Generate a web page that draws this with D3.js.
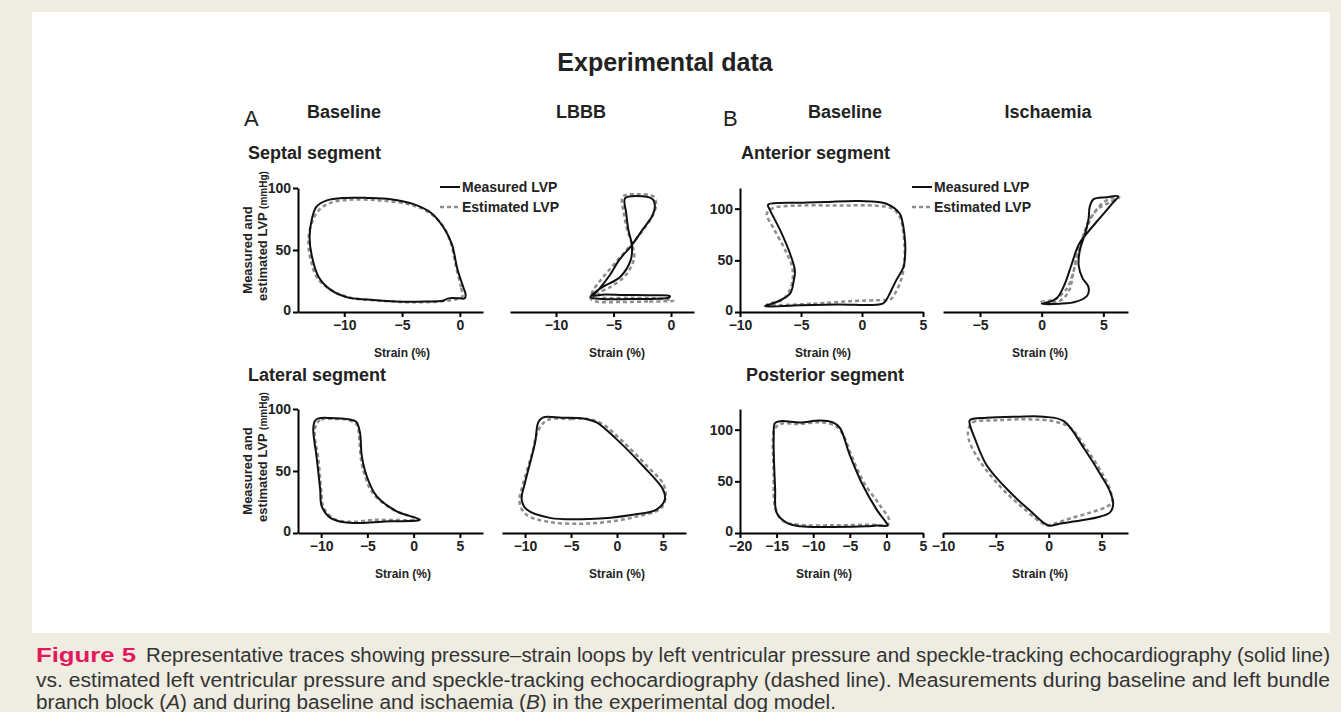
<!DOCTYPE html>
<html>
<head>
<meta charset="utf-8">
<script src="https://d3js.org/d3.v7.min.js"></script>
<style>
  body { margin: 0; background: #efece2; }
  svg text { font-family: "Liberation Sans", Arial, Helvetica, sans-serif; }
  .axis path, .axis line { stroke: #000; stroke-width: 2; }
  .axis text { font-size: 14px; font-weight: bold; fill: #222; }
  .lab { font-weight: bold; fill: #222; }
  .caption { font-family: "Liberation Sans", Arial, sans-serif; font-size: 20px; fill: #333; }
</style>
</head>
<body>
<svg id="fig" width="1341" height="712"></svg>
<script>
// ---- data: [strain %, pressure mmHg] ----
const septalBaseMeasured = [[0.4,11],[0.5,14],[0.3,20],[-0.2,34],[-0.7,55],[-1.4,68],[-2.5,80],[-4,87],[-6,91],[-8,92],[-10,92],[-11.5,90],[-12.4,85],[-12.8,75],[-13,60],[-12.8,45],[-12.2,28],[-11.2,18],[-9.8,12],[-8,10],[-5.5,8.5],[-3,8.5],[-1.5,9],[-1,11],[0,11]];
const septalBaseEstimated = [[0.2,12],[0.1,20],[-0.3,35],[-0.8,56],[-1.5,70],[-2.8,81],[-4.5,87],[-7,90],[-9.5,90.5],[-11.2,88],[-12.2,82],[-12.8,72],[-13.1,58],[-12.9,42],[-12.3,27],[-11,17],[-9.5,11.5],[-7.5,9.5],[-5,8],[-2.5,8],[-1.2,9],[-0.5,10]];
const septalLbbbMeasured = [[-0.1,12.9],[-2,13.5],[-4.1,13.7],[-6,14],[-6.8,13],[-6.6,15],[-6.2,19],[-5.3,30],[-4.5,42],[-3.4,54],[-2.5,66],[-1.6,78],[-1.4,85],[-1.6,91],[-3,93.5],[-4,91.7],[-3.9,80],[-3.7,66],[-3.4,54],[-3.5,42],[-4.4,28.5],[-5.9,20.4],[-6.6,16],[-7,12],[-6,10.5],[-3,10.5],[-0.2,11.5]];
const septalLbbbEstimated = [[0.2,9],[-2,8.5],[-4.5,8],[-6.5,8.5],[-7,11],[-6.8,17],[-6,27],[-4.8,40],[-3.6,53],[-2.6,64],[-1.7,76],[-1.3,86],[-1.5,93],[-3,95],[-4.2,93],[-4.1,80],[-3.8,66],[-3.4,55],[-3.2,44],[-3.9,30],[-5.3,20],[-6.3,15],[-6,12],[-3.5,11.5],[-0.5,10.5]];
const anteriorBaseMeasured = [[-7.95,5.5],[-5.1,6.5],[-2,7.2],[1.7,8.1],[2,12],[2.2,16.1],[2.8,30.6],[3.4,43.5],[3.55,60],[3.5,72.5],[3.3,88],[3.1,95.1],[2,104.8],[-0.2,107.4],[-3,106.5],[-5.1,105.8],[-7.7,103.8],[-7.6,100],[-6.7,79],[-5.9,56.5],[-5.5,40],[-5.6,30],[-5.9,17.8],[-7,9.7],[-7.8,6.5]];
const anteriorBaseEstimated = [[-7.8,7],[-4,8],[-1,10.5],[1.5,11.5],[2.3,12],[2.8,20],[3.3,35],[3.5,55],[3.4,75],[3.1,92],[2.5,100],[1,103],[-2,103],[-5,103],[-7.3,100.5],[-7.8,95],[-7.2,80],[-6.3,60],[-5.7,42],[-5.8,25],[-6.5,12],[-7.5,8.5]];
const anteriorIschMeasured = [[0,8],[1.5,8],[2.8,10],[3.7,16],[3.8,24],[3.3,33],[3,45],[3.1,60],[3.5,75],[3.8,90],[3.9,102],[4.2,109],[5.2,111],[6.2,112],[5.8,106],[4.8,92],[3.8,78],[3,65],[2.4,45],[1.8,25],[1.2,13],[0.4,9]];
const anteriorIschEstimated = [[0,10],[1,12],[2,22],[2.6,40],[3,60],[3.4,75],[3.9,90],[4.6,100],[5.5,106],[6.3,111],[5.6,110],[4.8,104],[4.2,95],[3.6,80],[3,62],[2.6,40],[2.2,20],[1.5,11],[0.5,9]];
const lateralBaseMeasured = [[-10.66,90.5],[-10.3,92.4],[-9,92.8],[-7.96,92.4],[-6.6,91],[-6.15,89.2],[-5.8,81],[-5.6,62],[-5.07,45.9],[-4,29.7],[-1.83,17.5],[0.69,10.8],[0.4,10],[-2.55,9.4],[-5.4,8.1],[-7.5,8.6],[-9,12.2],[-9.94,21.6],[-10.1,35],[-10.5,62],[-10.85,83.8]];
const lateralBaseEstimated = [[-10.5,88],[-10,91.5],[-8.5,92],[-7,91],[-6.1,87],[-5.9,78],[-5.7,60],[-5.3,47],[-4.5,33],[-2.5,20],[0.4,11.5],[0.6,10.5],[-2,10.5],[-4.5,10.5],[-6.5,9],[-8.5,11],[-9.7,20],[-10,35],[-10.3,60],[-10.7,80]];
const lateralLbbbMeasured = [[-8.02,93.3],[-6,93],[-3.68,92.4],[-2.23,89.2],[-0.06,75.7],[2.83,54],[5,35.1],[5.2,27],[4.28,18.9],[1.74,14.8],[-2.96,11.3],[-7.3,12.2],[-9.8,18.9],[-10.36,27],[-10,40.5],[-8.9,73],[-8.56,89.2]];
const lateralLbbbEstimated = [[-7.6,91],[-5,92],[-3.2,92],[-1.6,88],[0.6,74],[3.4,53],[5,40],[5.3,30],[4.8,20],[2,13],[-1,9],[-4,7.5],[-7.5,9],[-9.9,15],[-10.6,25],[-10.2,40],[-9.2,65],[-8.6,82]];
const posteriorBaseMeasured = [[-15.2,106.6],[-14.3,108.3],[-11.8,107],[-9.1,108.9],[-7.3,107],[-6.35,101.7],[-5,75.4],[-3.2,45.9],[-1.35,22.9],[0,9.8],[0.2,7.2],[-1.35,7.2],[-2.7,6.5],[-7.3,5.9],[-11.8,6.5],[-13.6,9.8],[-15,19.7],[-15.2,42.6],[-15.4,91.8]];
const posteriorBaseEstimated = [[-15.3,100],[-14.5,105.5],[-12,105.5],[-9,107],[-7,104],[-6,96],[-4.6,72],[-3,48],[-1,28],[0.4,12],[0.1,8],[-2,8],[-7,7.5],[-12,8],[-14.2,12],[-15.2,25],[-15.4,60],[-15.5,90]];
const posteriorIschMeasured = [[-7.46,105],[-7.46,109.2],[-5.87,111.5],[-3,112.5],[-0.48,112.5],[1.43,108.3],[3.33,82],[5,55],[5.8,40],[6.1,28],[5.8,20],[4.9,16],[3,12],[1,9],[0,7.2],[-1.8,22],[-3.65,39.4],[-5.87,65.6],[-7,91.8]];
const posteriorIschEstimated = [[-7.6,100],[-7.2,107],[-5,109],[-2,110],[0.5,108],[2,102],[3.8,78],[5.2,55],[5.8,42],[6,30],[5.6,26],[4,20],[2,14],[0.5,9],[-0.2,7.5],[-2.5,25],[-4.6,45],[-6.8,74],[-7.6,92]];

const yTicks = [0, 50, 100];
const legendLabels = ["Measured LVP", "Estimated LVP"];
const columnHeads = ["Baseline", "LBBB", "Baseline", "Ischaemia"];
const rowHeads = ["Septal segment", "Anterior segment", "Lateral segment", "Posterior segment"];

const svg = d3.select("#fig");
svg.append("rect").attr("x", 32).attr("y", 12).attr("width", 1298).attr("height", 621).attr("fill", "#fff");

// panel layout
const panels = [
  {x0: 298, x1: 483, y0: 312, xDom: [-14, 2], yDom: [0, 100], xTicks: [-10, -5, 0], yAxis: true, meas: septalBaseMeasured, est: septalBaseEstimated, lx: 402},
  {x0: 510, x1: 694, y0: 312, xDom: [-14, 2], yDom: [0, 100], xTicks: [-10, -5, 0], yAxis: false, meas: septalLbbbMeasured, est: septalLbbbEstimated, lx: 617},
  {x0: 740, x1: 923, y0: 312, xDom: [-10, 5], yDom: [0, 120], xTicks: [-10, -5, 0, 5], yAxis: true, meas: anteriorBaseMeasured, est: anteriorBaseEstimated, lx: 823},
  {x0: 943, x1: 1128, y0: 312, xDom: [-8, 7], yDom: [0, 120], xTicks: [-5, 0, 5], yAxis: false, meas: anteriorIschMeasured, est: anteriorIschEstimated, lx: 1040},
  {x0: 298, x1: 483, y0: 533, xDom: [-12.5, 7.5], yDom: [0, 100], xTicks: [-10, -5, 0, 5], yAxis: true, meas: lateralBaseMeasured, est: lateralBaseEstimated, lx: 403},
  {x0: 502, x1: 686, y0: 533, xDom: [-12.5, 7.5], yDom: [0, 100], xTicks: [-10, -5, 0, 5], yAxis: false, meas: lateralLbbbMeasured, est: lateralLbbbEstimated, lx: 617},
  {x0: 740, x1: 923, y0: 533, xDom: [-20, 5], yDom: [0, 120], xTicks: [-20, -15, -10, -5, 0, 5], yAxis: true, meas: posteriorBaseMeasured, est: posteriorBaseEstimated, lx: 824},
  {x0: 943, x1: 1128, y0: 533, xDom: [-10, 7.5], yDom: [0, 120], xTicks: [-10, -5, 0, 5], yAxis: false, meas: posteriorIschMeasured, est: posteriorIschEstimated, lx: 1040}
];

panels.forEach(p => {
  const x = d3.scaleLinear().domain(p.xDom).range([p.x0, p.x1]);
  const y = d3.scaleLinear().domain(p.yDom).range([p.y0, p.y0 - 124]);
  const g = svg.append("g");

  const line = d3.line().x(d => x(d[0])).y(d => y(d[1])).curve(d3.curveCatmullRomClosed.alpha(0.5));
  g.append("path").attr("d", line(p.est)).attr("fill", "none")
    .attr("stroke", "#8e8e8e").attr("stroke-width", 2.5).attr("stroke-dasharray", "4,3");
  g.append("path").attr("d", line(p.meas)).attr("fill", "none")
    .attr("stroke", "#111").attr("stroke-width", 2);

  const xa = g.append("g").attr("class", "axis").attr("transform", `translate(0,${p.y0})`)
    .call(d3.axisBottom(x).tickValues(p.xTicks).tickSize(5).tickSizeOuter(0).tickPadding(3));
  xa.attr("font-size", null).attr("font-family", null);
  if (p.yAxis) {
    const ya = g.append("g").attr("class", "axis").attr("transform", `translate(${p.x0},0)`)
      .call(d3.axisLeft(y).tickValues(yTicks).tickSize(5).tickSizeOuter(0).tickPadding(2));
    ya.attr("font-size", null).attr("font-family", null);
    // keep the "0" label clear of the x tick labels below it
    ya.selectAll(".tick text").filter(d => d === 0).attr("dy", "0.2em");
  }
  g.append("text").attr("class", "lab").attr("x", p.lx).attr("y", p.y0 + 45)
    .attr("text-anchor", "middle").style("font-size", "12px").text("Strain (%)");
});

// y-axis titles
[250, 471].forEach(cy => {
  const t = svg.append("g").attr("transform", `translate(252,${cy}) rotate(-90)`);
  t.append("text").attr("class", "lab").attr("x", 0).attr("y", 0)
    .attr("text-anchor", "middle").style("font-size", "13px").text("Measured and");
  const t2 = t.append("text").attr("class", "lab").attr("x", 14).attr("y", 15)
    .attr("text-anchor", "middle").style("font-size", "13px");
  t2.append("tspan").text("estimated LVP ");
  t2.append("tspan").style("font-size", "10px").text("(mmHg)");
});

// legends
[[440, 187], [912, 187]].forEach(([lx, ly]) => {
  legendLabels.forEach((lab, i) => {
    const yy = ly + i * 20;
    svg.append("line").attr("x1", lx).attr("x2", lx + 20).attr("y1", yy).attr("y2", yy)
      .attr("stroke", i ? "#8e8e8e" : "#111").attr("stroke-width", i ? 2.5 : 2)
      .attr("stroke-dasharray", i ? "4,3" : null);
    svg.append("text").attr("class", "lab").attr("x", lx + 22).attr("y", yy + 5)
      .style("font-size", "14px").text(lab);
  });
});

// titles and headers
svg.append("text").attr("class", "lab").attr("x", 665).attr("y", 71).attr("text-anchor", "middle")
  .style("font-size", "25px").text("Experimental data");
svg.append("text").attr("x", 244).attr("y", 126).style("font-size", "22px").attr("fill", "#222").text("A");
svg.append("text").attr("x", 723).attr("y", 126).style("font-size", "22px").attr("fill", "#222").text("B");
[344, 581, 845, 1048].forEach((cx, i) => {
  svg.append("text").attr("class", "lab").attr("x", cx).attr("y", 118).attr("text-anchor", "middle")
    .style("font-size", "18px").text(columnHeads[i]);
});
[[248, 159], [741, 159], [248, 381], [746, 381]].forEach(([rx, ry], i) => {
  svg.append("text").attr("class", "lab").attr("x", rx).attr("y", ry)
    .style("font-size", "18px").text(rowHeads[i]);
});

// caption
const cap = svg.append("g");
cap.append("text").attr("x", 36).attr("y", 662).style("font-weight", "bold").style("font-size", "21px")
  .attr("fill", "#e4175b").attr("textLength", 100).attr("lengthAdjust", "spacingAndGlyphs").text("Figure 5");
cap.append("text").attr("class", "caption").attr("x", 146).attr("y", 662).attr("textLength", 1184).attr("lengthAdjust", "spacingAndGlyphs")
  .text("Representative traces showing pressure\u2013strain loops by left ventricular pressure and speckle-tracking echocardiography (solid line)");
cap.append("text").attr("class", "caption").attr("x", 36).attr("y", 687).attr("textLength", 1294).attr("lengthAdjust", "spacingAndGlyphs")
  .text("vs. estimated left ventricular pressure and speckle-tracking echocardiography (dashed line). Measurements during baseline and left bundle");
const l3 = cap.append("text").attr("class", "caption").attr("x", 36).attr("y", 709)
  .attr("textLength", 800).attr("lengthAdjust", "spacingAndGlyphs");
l3.append("tspan").text("branch block (");
l3.append("tspan").style("font-style", "italic").text("A");
l3.append("tspan").text(") and during baseline and ischaemia (");
l3.append("tspan").style("font-style", "italic").text("B");
l3.append("tspan").text(") in the experimental dog model.");
</script>
</body>
</html>
